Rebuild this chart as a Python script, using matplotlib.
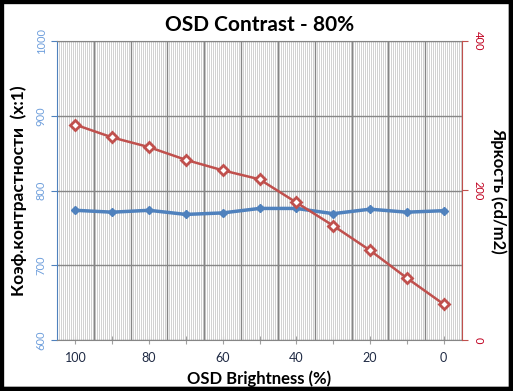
import numpy as np
import matplotlib
matplotlib.use("Agg")
import matplotlib.pyplot as plt
from matplotlib.patches import Rectangle

plt.rcParams['font.family'] = ['Lato', 'DejaVu Sans']

# data
brightness = [100, 90, 80, 70, 60, 50, 40, 30, 20, 10, 0]
contrast = [773.5, 771, 773.5, 768, 770, 776, 776, 769, 775, 771, 773]
luminance = [288, 271, 258, 241, 227, 215, 184, 153, 120, 83, 48]

blue = '#4f81bd'
red = '#c0504d'
tick_blue = '#6f9fdc'

fig = plt.figure(figsize=(5.13, 3.91), dpi=100)
ax = fig.add_axes([57 / 513, 51 / 391, 405 / 513, 299 / 391])
x = np.arange(len(brightness))

# background stripes (one every 2 px) + category grid
step = len(x) / 405 * 2
ax.set_xticks(np.arange(-0.5, len(x) - 0.5, step), minor=True)
ax.grid(which='minor', axis='x', color='#d2d2d2', lw=0.72)
ax.vlines(np.arange(0.5, len(x) - 1, 1), 600, 1000, color='#868686', lw=1, zorder=1)
ax.set_yticks([600, 700, 800, 900, 1000])
ax.grid(which='major', axis='y', color='#868686', lw=1)
ax.set_axisbelow(True)

ax.plot(x, contrast, color=blue, lw=2.5, marker='D', ms=4, zorder=3)
ax.set_xlim(-0.5, len(x) - 0.5)
ax.set_ylim(600, 1000)
ax.set_xticks(x)
ax.set_xticklabels([str(b) if i % 2 == 0 else '' for i, b in enumerate(brightness)],
                   fontsize=9, color='#1f2a44')
ax.tick_params(axis='x', which='major', direction='inout', length=6, color='#a0a0a0', pad=6)
ax.tick_params(axis='x', which='minor', length=0)
ax.tick_params(axis='y', direction='out', length=4, color=blue, labelcolor=tick_blue, labelsize=8)
for lab in ax.get_yticklabels():
    lab.set_rotation(90)
    lab.set_va('center')

ax.spines['left'].set_color(blue)
ax.spines['bottom'].set_color('#868686')
ax.spines['top'].set_color('#868686')
ax.spines['right'].set_visible(False)

ax2 = ax.twinx()
ax2.plot(x, luminance, color=red, lw=1.8, marker='D', ms=5.5, mfc='white', mec=red, mew=2, zorder=4)
ax2.set_ylim(0, 400)
ax2.set_yticks([0, 200, 400])
ax2.tick_params(axis='y', direction='out', length=4, color=red, labelcolor='#c00020', labelsize=8)
for lab in ax2.get_yticklabels():
    lab.set_rotation(-90)
    lab.set_va('center')
ax2.spines['right'].set_color(red)
for s in ['left', 'top', 'bottom']:
    ax2.spines[s].set_visible(False)

ax.set_title('OSD Contrast - 80%', fontsize=15, fontweight='bold', pad=7)
ax.set_xlabel('OSD Brightness (%)', fontsize=12, fontweight='bold', labelpad=4)
ax.set_ylabel('Коэф.контрастности  (x:1)', fontsize=12.5, fontweight='bold', labelpad=6)
ax2.set_ylabel('Яркость (cd/m2)', fontsize=12, fontweight='bold', rotation=-90, labelpad=17)

# frame with shadow like the source image
fig.patches.append(Rectangle((0, 0), 1, 1, transform=fig.transFigure, fill=False,
                             ec='black', lw=6))
fig.patches.append(Rectangle((0, 0), 1, 4 / 391, transform=fig.transFigure, color='black'))
fig.patches.append(Rectangle((1 - 4 / 513, 0), 4 / 513, 1, transform=fig.transFigure, color='black'))

fig.savefig('out.png', dpi=100)
